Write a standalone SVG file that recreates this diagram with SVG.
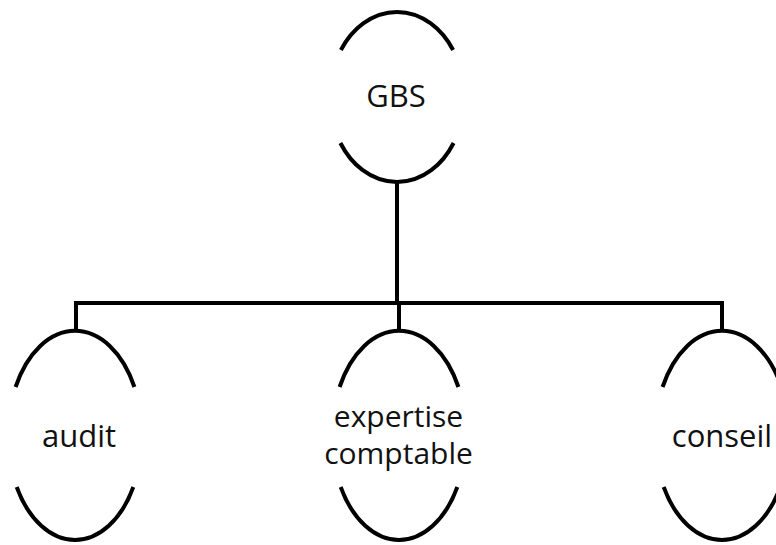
<svg xmlns="http://www.w3.org/2000/svg" width="776" height="545" viewBox="0 0 776 545">
  <style>
    .arc { fill: none; stroke: #000; stroke-width: 4; }
    .link { fill: none; stroke: #000; stroke-width: 4; stroke-linejoin: miter; }
    .label { font-family: "Open Sans", "Liberation Sans", sans-serif; font-size: 31px; fill: #111; text-anchor: middle; }
    .label-sm { font-size: 30px; }
  </style>
  <rect width="776" height="545" fill="#fff"/>

  <!-- tree connectors -->
  <g id="connectors">
    <path class="link" d="M397,181 V303"/>
    <path class="link" d="M76,331 V303 H722 V331"/>
    <path class="link" d="M399,303 V331"/>
  </g>

  <!-- root node: ellipse showing only its top and bottom arcs -->
  <g id="node-gbs">
    <path class="arc" d="M340.9,50 A67,84 0 0 1 453.1,50"/>
    <path class="arc" d="M340.4,143 A67,84 0 0 0 453.6,143"/>
    <text class="label" x="396" y="107">GBS</text>
  </g>

  <g id="node-audit">
    <path class="arc" d="M15.6,387 A67,104.5 0 0 1 134.4,387"/>
    <path class="arc" d="M16.7,487 A67,104.5 0 0 0 133.3,487"/>
    <text class="label" x="79" y="447">audit</text>
  </g>

  <g id="node-expertise">
    <path class="arc" d="M339.6,387 A67,104.5 0 0 1 458.4,387"/>
    <path class="arc" d="M340.7,487 A67,104.5 0 0 0 457.3,487"/>
    <text class="label label-sm" x="398.5" y="427">expertise</text>
    <text class="label label-sm" x="398.5" y="464">comptable</text>
  </g>

  <g id="node-conseil">
    <path class="arc" d="M662.6,387 A67,104.5 0 0 1 781.4,387"/>
    <path class="arc" d="M663.7,487 A67,104.5 0 0 0 780.3,487"/>
    <text class="label" x="722" y="447">conseil</text>
  </g>
</svg>
